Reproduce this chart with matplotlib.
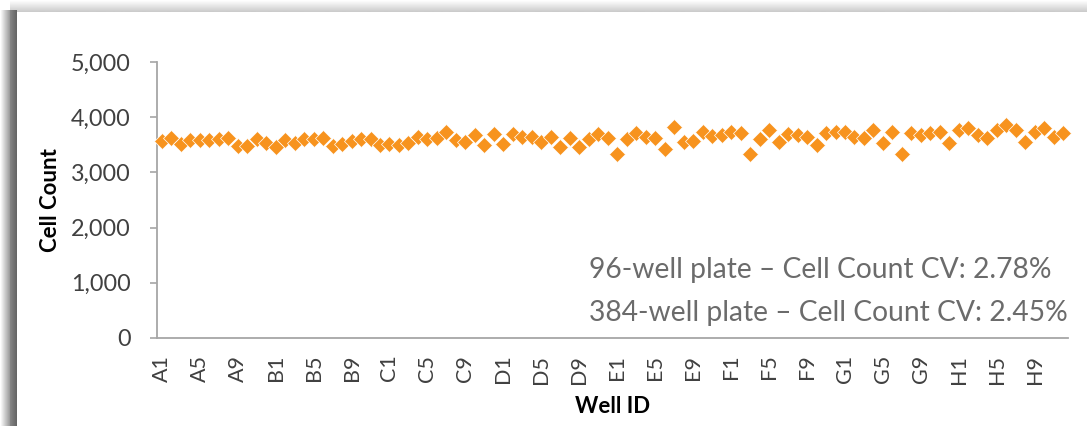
import numpy as np
import matplotlib
matplotlib.use("Agg")
import matplotlib.pyplot as plt

# ---- data ----
rows = ["A", "B", "C", "D", "E", "F", "G", "H"]
cols = list(range(1, 13))
well_ids = [f"{r}{c}" for r in rows for c in cols]
cell_counts = [
    3570, 3617, 3514, 3581, 3581, 3581, 3599, 3629, 3484, 3484, 3599, 3540,
    3454, 3581, 3540, 3599, 3599, 3629, 3484, 3514, 3569, 3599, 3599, 3490,
    3508, 3490, 3540, 3647, 3599, 3629, 3730, 3587, 3556, 3678, 3505, 3700,
    3520, 3700, 3641, 3641, 3550, 3641, 3460, 3623, 3460, 3600, 3700, 3623,
    3340, 3600, 3710, 3650, 3623, 3420, 3825, 3556, 3570, 3725, 3660, 3680,
    3725, 3710, 3325, 3600, 3768, 3553, 3695, 3678, 3645, 3500, 3710, 3725,
    3732, 3641, 3623, 3768, 3532, 3732, 3340, 3714, 3678, 3714, 3732, 3532,
    3768, 3804, 3678, 3623, 3768, 3859, 3768, 3550, 3732, 3804, 3641, 3714,
]
tick_labels = [w for i, w in enumerate(well_ids) if i % 4 == 0]
y_ticks = [0, 1000, 2000, 3000, 4000, 5000]
notes = ["96-well plate \u2013 Cell Count CV: 2.78%",
         "384-well plate \u2013 Cell Count CV: 2.45%"]

W, H = 1087, 426
fig = plt.figure(figsize=(W / 100, H / 100), dpi=100)
fig.patch.set_facecolor("white")

# ---- frame shadow (background) ----
bg = fig.add_axes([0, 0, 1, 1], zorder=-5)
bg.set_xlim(0, W)
bg.set_ylim(H, 0)
bg.axis("off")
top = np.linspace(1.0, 0.80, 12).reshape(-1, 1)
bg.imshow(np.repeat(top, 2, axis=1), cmap="gray", vmin=0, vmax=1,
          extent=(10, W, 12, 0), aspect="auto", interpolation="bilinear")
left = np.concatenate([np.linspace(1.0, 0.62, 10), np.linspace(0.52, 0.40, 7)]).reshape(1, -1)
bg.imshow(np.repeat(left, 2, axis=0), cmap="gray", vmin=0, vmax=1,
          extent=(0, 17, H, 10), aspect="auto", interpolation="bilinear")

# ---- main axes ----
x0, x1 = 157, 1068
yb, yt = 338, 62
ax = fig.add_axes([x0 / W, (H - yb) / H, (x1 - x0) / W, (yb - yt) / H])
x = np.arange(len(cell_counts))
ax.plot(x, cell_counts, linestyle="none", marker="D", markersize=8.4,
        markerfacecolor="#F7931E", markeredgecolor="white", markeredgewidth=0.5,
        clip_on=False, zorder=3)
ax.set_xlim(-0.5, len(cell_counts) - 0.5)
ax.set_ylim(0, 5000)

for s in ["top", "right"]:
    ax.spines[s].set_visible(False)
for s in ["left", "bottom"]:
    ax.spines[s].set_color("#a6a6a6")
    ax.spines[s].set_linewidth(1.3)

tick_font = "Lato"
ax.set_yticks(y_ticks)
ax.set_yticklabels([f"{v:,}" for v in y_ticks], fontsize=16.8, family=tick_font, color="#404040")
ax.tick_params(axis="y", length=5, width=1.2, color="#a6a6a6", pad=14)

ax.set_xticks(x[::4])
ax.set_xticklabels(tick_labels, rotation=90, fontsize=15.5, family=tick_font, color="#404040")
ax.tick_params(axis="x", length=0, pad=12)

ax.set_ylabel("Cell Count", fontsize=16, fontweight="bold", family="Lato", color="black", labelpad=7)
ax.set_xlabel("Well ID", fontsize=16, fontweight="bold", family="Lato", color="black", labelpad=9)

fig.text(589 / W, 1 - 270 / H, notes[0], fontsize=20.3, family="Lato",
         color="#6b6b6b", ha="left", va="center")
fig.text(589 / W, 1 - 313 / H, notes[1], fontsize=20.3, family="Lato",
         color="#6b6b6b", ha="left", va="center")

fig.savefig("out.png", dpi=100, facecolor="white")
